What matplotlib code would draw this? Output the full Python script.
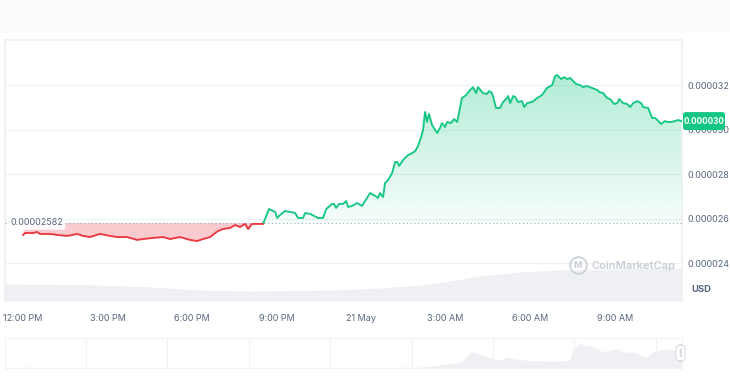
import numpy as np
import matplotlib.pyplot as plt
import matplotlib.transforms as mtransforms
from matplotlib.path import Path
from matplotlib.patches import FancyBboxPatch, Rectangle

plt.rcParams['font.family'] = ['Inter', 'DejaVu Sans']

# price line, hours after 12:00 PM (20 May), price in micro-USD
hours = [0.00, 0.07, 0.36, 0.50, 0.60, 0.96, 1.24, 1.56, 1.74, 1.92, 2.13, 2.38,
         2.73, 3.09, 3.34, 3.69, 4.05, 4.26, 4.62, 4.97, 5.22, 5.57, 5.93, 6.18,
         6.39, 6.64, 6.82, 6.92, 7.10, 7.35, 7.53, 7.70, 7.88, 7.99, 8.13, 8.31,
         8.52, 8.73, 8.95, 9.02, 9.12, 9.30, 9.48, 9.66, 9.76, 9.94, 10.01, 10.19,
         10.47, 10.65, 10.76, 10.97, 11.04, 11.11, 11.22, 11.36, 11.47, 11.54,
         11.68, 11.86, 12.03, 12.21, 12.32, 12.50, 12.60, 12.67, 12.78, 12.85,
         12.96, 13.10, 13.21, 13.28, 13.35, 13.49, 13.67, 13.81, 13.92, 14.02,
         14.13, 14.20, 14.27, 14.34, 14.41, 14.52, 14.70, 14.80, 14.87, 14.98,
         15.05, 15.19, 15.30, 15.41, 15.58, 15.73, 15.87, 15.97, 16.08, 16.15,
         16.33, 16.47, 16.54, 16.65, 16.79, 16.93, 17.04, 17.18, 17.22, 17.29,
         17.40, 17.47, 17.57, 17.71, 17.79, 17.89, 18.07, 18.25, 18.42, 18.60,
         18.78, 18.89, 18.96, 19.10, 19.21, 19.31, 19.42, 19.53, 19.63, 19.77,
         19.88, 20.02, 20.20, 20.38, 20.45, 20.59, 20.73, 20.84, 20.98, 21.09,
         21.16, 21.30, 21.44, 21.55, 21.66, 21.80, 21.94, 22.01, 22.19, 22.33,
         22.44, 22.51, 22.65, 22.79, 22.86, 23.00, 23.15, 23.25, 23.36]
price = [25.26, 25.35, 25.35, 25.40, 25.31, 25.31, 25.26, 25.22, 25.26, 25.31, 25.22, 25.17,
         25.31, 25.22, 25.17, 25.17, 25.04, 25.08, 25.13, 25.17, 25.08, 25.17, 25.04, 24.99,
         25.08, 25.17, 25.35, 25.44, 25.53, 25.58, 25.71, 25.62, 25.76, 25.53, 25.76, 25.76,
         25.76, 26.43, 26.30, 26.03, 26.16, 26.34, 26.30, 26.25, 26.03, 26.03, 26.25, 26.21,
         26.03, 26.03, 26.43, 26.66, 26.66, 26.48, 26.66, 26.66, 26.79, 26.52,
         26.57, 26.70, 26.57, 26.93, 27.15, 27.02, 26.93, 27.15, 26.97, 27.60,
         27.74, 28.05, 28.55, 28.55, 28.37, 28.64, 28.86, 28.95, 29.04, 29.27,
         29.67, 29.99, 30.80, 30.35, 30.71, 30.21, 29.85, 30.08, 30.30, 30.12,
         30.35, 30.30, 30.48, 30.35, 31.43, 31.56, 31.79, 31.92, 31.65, 31.92,
         31.65, 31.61, 31.74, 31.65, 30.98, 30.98, 31.25, 31.43, 31.52, 31.20,
         31.52, 31.47, 31.25, 31.29, 31.02, 31.20, 31.25, 31.43, 31.56, 31.88,
         32.01, 32.42, 32.46, 32.28, 32.37, 32.28, 32.33, 32.19, 32.06, 32.01,
         31.92, 31.97, 31.88, 31.79, 31.70, 31.65, 31.43, 31.38, 31.16, 31.20,
         31.38, 31.20, 31.16, 31.02, 31.20, 31.29, 31.20, 31.02, 30.98, 30.53,
         30.53, 30.44, 30.26, 30.39, 30.35, 30.35, 30.39, 30.44, 30.39]
base_price = 25.82  # 0.00002582 open

# volume band inside the main chart (relative units)
vol_hours = [-0.64, 2.73, 4.51, 6.28, 8.06, 10.90, 12.67, 14.09, 15.16, 16.22,
             17.64, 19.06, 21.19, 23.39]
volume = [17, 16, 14, 11, 10, 11, 13, 16, 20, 25, 29, 31, 32, 33]

# navigator volume (relative units)
nav_hours = [-0.64, 0.0, 0.3, 0.6, 5.0, 10.0, 14.20, 15.51, 15.62, 15.90, 16.12,
             16.33, 16.51, 16.69, 16.94, 17.18, 17.40, 17.90, 18.46, 19.06,
             19.41, 19.52, 19.77, 19.95, 20.13, 20.38, 20.59, 20.84, 21.09,
             21.30, 21.66, 21.91, 22.15, 22.37, 22.62, 22.86, 23.07, 23.25, 23.39]
nav_vol = [0.5, 0.5, 1.0, 0.4, 0.3, 0.3, 0.8, 6.0, 7.7, 16.0, 14.3, 12.7,
           11.0, 9.3, 7.7, 11.0, 9.3, 7.7, 7.0, 7.0, 8.3, 17.7, 25.0, 21.7,
           22.7, 19.3, 16.0, 17.7, 19.3, 16.0, 16.0, 12.7, 11.0, 16.0, 18.3,
           19.3, 18.3, 17.0, 17.7]

tick_hours = [0, 3, 6, 9, 12, 15, 18, 21]
tick_labels = ['12:00 PM', '3:00 PM', '6:00 PM', '9:00 PM', '21 May',
               '3:00 AM', '6:00 AM', '9:00 AM']
price_ticks = [24, 26, 28, 30, 32]

W, H = 730, 378
GREEN, RED = '#16c784', '#ea3943'
TXT, GRID = '#58667e', '#eff2f5'


def fbox(x0, y0, x1, y1):
    return [x0 / W, 1 - y1 / H, (x1 - x0) / W, (y1 - y0) / H]


fig = plt.figure(figsize=(W / 100, H / 100), dpi=100)
fig.patch.set_facecolor('white')
fig.add_artist(Rectangle((0, 1 - 33 / H), 1, 33 / H, transform=fig.transFigure,
                         facecolor='#fdfcfa', edgecolor='none', zorder=0))

xlim = (-0.64, 23.39)
ylim = (22.29, 34.04)

# volume band behind the price axes
axv = fig.add_axes(fbox(5, 40, 682, 301), zorder=1)
axv.fill_between(vol_hours, volume, 0, color='#eef0f4', lw=0)
axv.set_xlim(*xlim)
axv.set_ylim(0, max(volume) * 261 / 33)
axv.axis('off')

ax = fig.add_axes(fbox(5, 40, 682, 301), zorder=2)
ax.patch.set_visible(False)

t = np.array(hours)
p = np.array(price)
# insert the crossing point with the open price
k = np.argmax(p > base_price)
tc = t[k - 1] + (base_price - p[k - 1]) * (t[k] - t[k - 1]) / (p[k] - p[k - 1])
t2 = np.insert(t, k, tc)
p2 = np.insert(p, k, base_price)

# red fill + line
ax.fill_between(t2, p2, base_price, where=p2 <= base_price, interpolate=True,
                color=RED, alpha=0.26, lw=0, zorder=2)
ax.plot(t2, np.ma.masked_where(p2 > base_price, p2), color=RED, lw=1.35,
        zorder=4, solid_joinstyle='round')

# green gradient fill
poly = ax.fill_between(t2, p2, base_price, where=p2 >= base_price,
                       interpolate=True, color='none', lw=0)
clip = Path.make_compound_path(*poly.get_paths())
grad = np.zeros((256, 1, 4))
grad[:, 0, 0] = 22 / 255
grad[:, 0, 1] = 199 / 255
grad[:, 0, 2] = 132 / 255
grad[:, 0, 3] = np.linspace(0.04, 0.33, 256)
im = ax.imshow(grad, extent=[xlim[0], xlim[1], base_price, p.max()],
               origin='lower', aspect='auto', zorder=2)
im.set_clip_path(clip, transform=ax.transData)
ax.plot(t2, np.ma.masked_where(p2 < base_price, p2), color=GREEN, lw=1.35,
        zorder=4, solid_joinstyle='round')

# open price dotted line and label
ax.axhline(base_price, color='#a6b0c3', lw=0.9, ls=(0, (1, 2)), zorder=3)
ax.text(0.0074, base_price, f'{base_price * 1e-6:.8f}', transform=ax.get_yaxis_transform(),
        ha='left', va='center', fontsize=6.5, color=TXT, zorder=6,
        bbox=dict(boxstyle='round,pad=0.3,rounding_size=0.3', fc='white', ec='none', alpha=0.9))

ax.set_xlim(*xlim)
ax.set_ylim(*ylim)
ax.set_yticks(price_ticks)
ax.set_yticklabels([f'{v * 1e-6:.6f}' for v in price_ticks])
ax.yaxis.tick_right()
ax.grid(axis='y', color=GRID, lw=0.9)
ax.set_xticks(tick_hours)
ax.set_xticklabels(tick_labels)
ax.tick_params(axis='y', length=0, pad=3.8, labelsize=6.5, labelcolor=TXT)
ax.tick_params(axis='x', length=0, pad=9.5, labelsize=6.5, labelcolor=TXT)
for s in ['left', 'right', 'top']:
    ax.spines[s].set_color('#eceff3')
    ax.spines[s].set_linewidth(1.2)
ax.spines['bottom'].set_visible(False)

# current price badge (box 42 px wide, 18 px tall, centred on last price)
badge_tr = mtransforms.blended_transform_factory(ax.transAxes, ax.transData)
px_x = 1 / 677          # one pixel in axes fraction
px_y = (ylim[1] - ylim[0]) / 261  # one pixel in price units
ax.add_patch(FancyBboxPatch((1 + 1 * px_x, price[-1] - 9 * px_y), 42 * px_x, 18 * px_y,
                            boxstyle='round,pad=0,rounding_size=0.004',
                            mutation_aspect=px_y / px_x,
                            transform=badge_tr, fc=GREEN, ec='none', zorder=7,
                            clip_on=False))
ax.text(1 + 22 * px_x, price[-1], f'{price[-1] * 1e-6:.6f}', transform=badge_tr,
        ha='center', va='center', fontsize=5.9, fontweight='bold', color='white',
        zorder=8, clip_on=False)

fig.text(691 / W, 1 - 290 / H, 'USD', fontsize=6.8, fontweight='bold', color=TXT,
         ha='left', va='center')

# watermark
fig.text(592 / W, 1 - 266 / H, 'CoinMarketCap', fontsize=8, fontweight='semibold',
         color='#c9ced6', ha='left', va='center', zorder=5)
fig.lines.append(plt.Line2D([578 / W], [1 - 265 / H], marker='o', ms=12, mfc='none',
                            mec='#c9ced6', mew=1.2, transform=fig.transFigure))
fig.text(578 / W, 1 - 265.5 / H, 'M', fontsize=6.5, fontweight='bold', color='#c9ced6',
         ha='center', va='center')

# navigator
axn = fig.add_axes(fbox(5, 338, 682, 368))
axn.fill_between(nav_hours, nav_vol, 0, color='#eef0f4', lw=0)
axn.set_xlim(*xlim)
axn.set_ylim(0, 30)
for gx in [2.24, 5.11, 8.02, 10.90, 13.81, 16.69, 19.56, 22.47]:
    axn.axvline(gx, color='#f0f2f5', lw=0.8)
axn.set_xticks([])
axn.set_yticks([])
for s in axn.spines.values():
    s.set_color('#f0f2f5')
    s.set_linewidth(0.8)
axn.add_patch(FancyBboxPatch((676 / W, 1 - 361 / H), 9 / W, 16 / H,
                             boxstyle='round,pad=0,rounding_size=0.008',
                             transform=fig.transFigure, fc='white', ec='#d9dde3',
                             lw=0.8, zorder=5, clip_on=False))
fig.text(680.5 / W, 1 - 353 / H, '||', fontsize=5, color='#a6b0c3', ha='center',
         va='center', zorder=6)

fig.savefig('out.png', dpi=100)
